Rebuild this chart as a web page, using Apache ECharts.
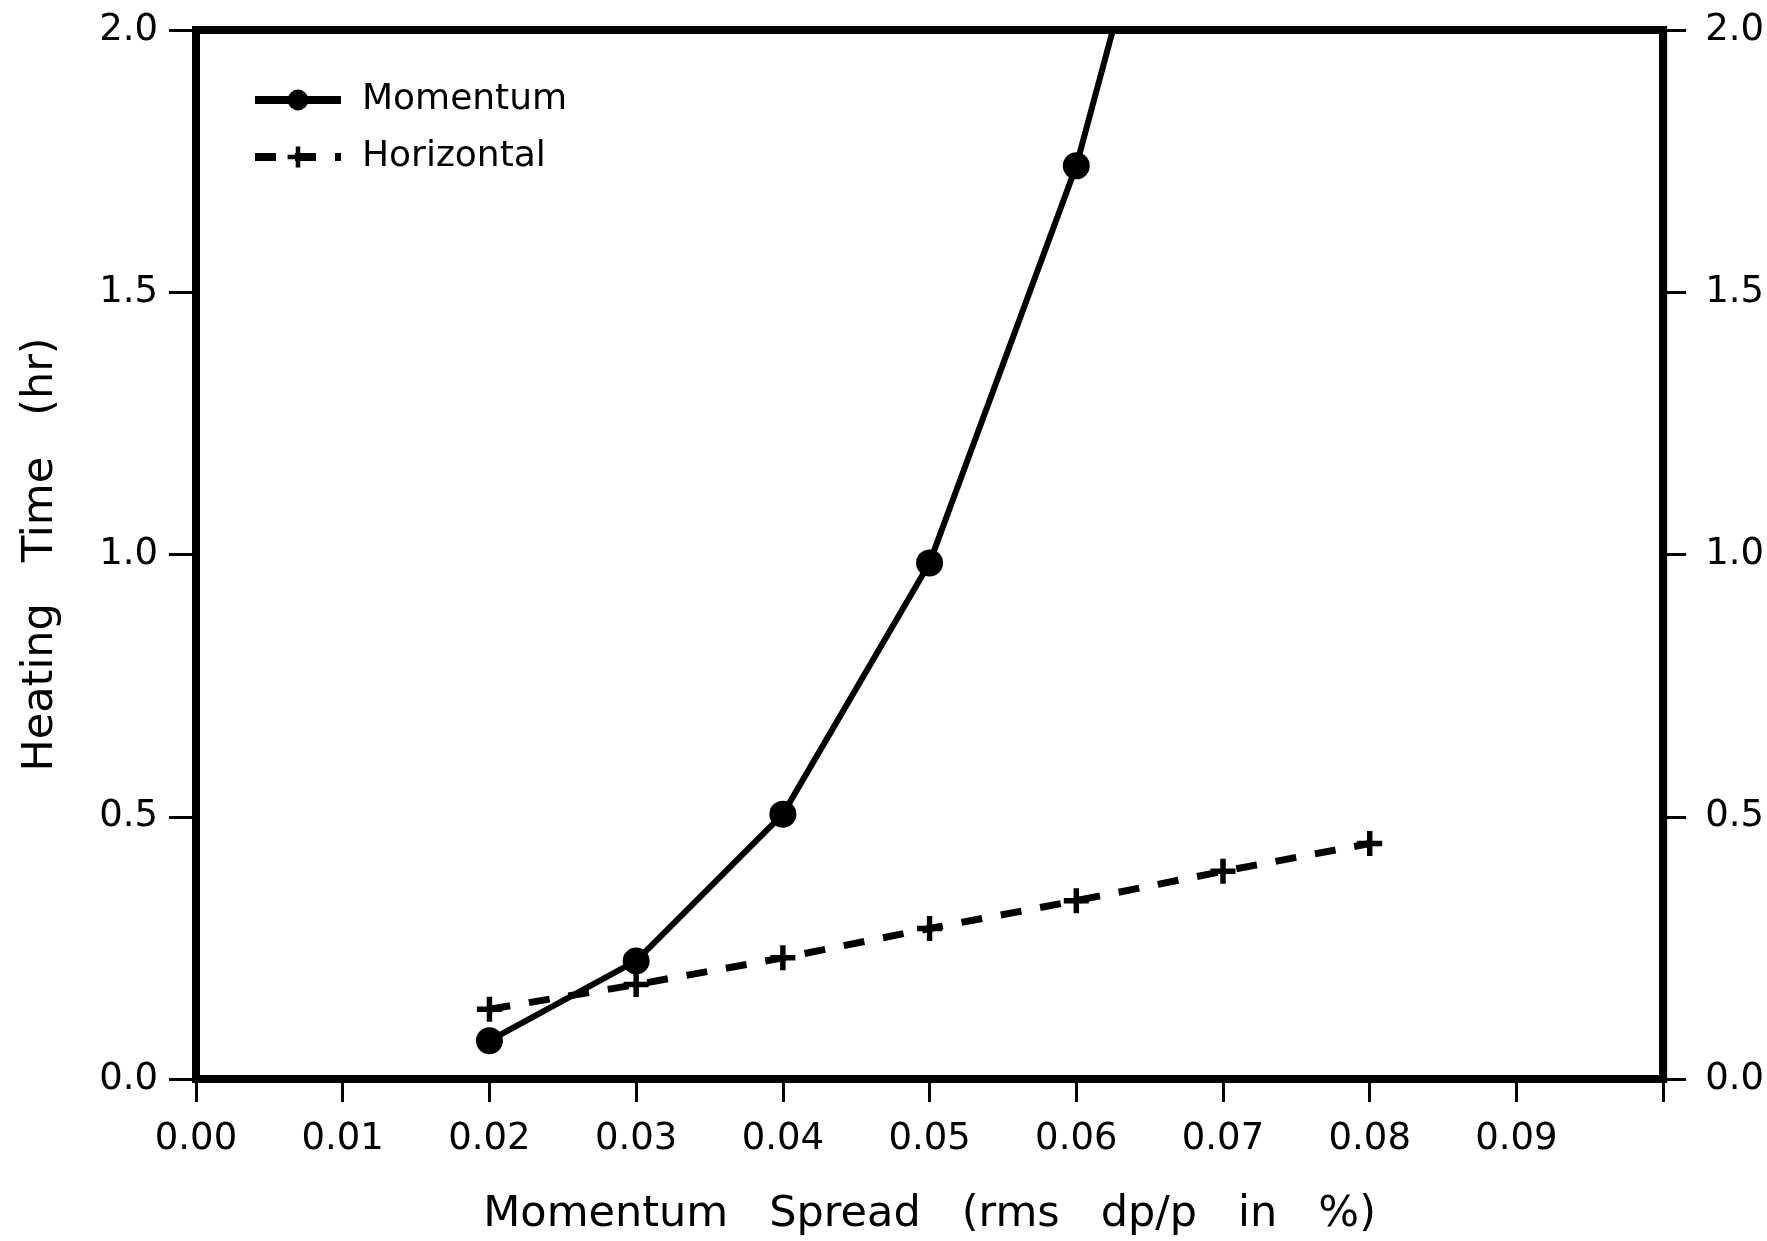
<!DOCTYPE html>
<head>
    <meta charset="utf-8"/>
</head>
<body style="margin:0;background:#fff;">
<div id="main" style="width:1767px;height:1241px;"></div>
<script src="https://cdn.jsdelivr.net/npm/echarts@6/dist/echarts.min.js"></script>
<script type="text/javascript">
// spread values (rms dp/p in %)
var momX = [0.02, 0.03, 0.04, 0.05, 0.06, 0.07];
var momY = [0.073, 0.225, 0.505, 0.984, 1.741, 2.78];
var horX = [0.02, 0.03, 0.04, 0.05, 0.06, 0.07, 0.08];
var horY = [0.133, 0.180, 0.231, 0.287, 0.340, 0.396, 0.449];

function pairs(xs, ys) {
    var out = [];
    for (var i = 0; i < xs.length; i++) out.push([xs[i], ys[i]]);
    return out;
}

var plus = 'path://M9,0 L14,0 L14,9 L23,9 L23,14 L14,14 L14,23 L9,23 L9,14 L0,14 L0,9 L9,9 Z';
var font = 'DejaVu Sans';

var myChart = echarts.init(document.getElementById('main'));
var yAxisBase = {
    type: 'value', min: 0, max: 2, interval: 0.5,
    axisLine: {show: true, lineStyle: {color: '#000', width: 8}},
    axisTick: {show: true, length: 27, lineStyle: {color: '#000', width: 3}},
    splitLine: {show: false},
    axisLabel: {color: '#000', fontSize: 37, fontFamily: font, margin: 38,
        formatter: function (v) { return v.toFixed(1); }}
};
var options = {
    animation: false,
    backgroundColor: '#fff',
    grid: {left: 196, right: 102, top: 30, bottom: 156,
        show: true, borderColor: '#000', borderWidth: 8},
    legend: {
        left: 246, top: 77, orient: 'vertical',
        itemWidth: 86, itemHeight: 26, itemGap: 21,
        lineStyle: {width: 8},
        textStyle: {color: '#000', fontSize: 36, fontFamily: font, padding: [0, 0, 0, 16]},
        data: ['Momentum', 'Horizontal']
    },
    xAxis: {
        type: 'value', min: 0, max: 0.1, interval: 0.01,
        axisLine: {show: true, onZero: false, lineStyle: {color: '#000', width: 8}},
        axisTick: {show: true, length: 23, lineStyle: {color: '#000', width: 3}},
        splitLine: {show: false},
        axisLabel: {color: '#000', fontSize: 37, fontFamily: font, margin: 42,
            formatter: function (v) { return v > 0.095 ? '' : v.toFixed(2); }},
        name: 'Momentum   Spread   (rms   dp/p   in   %)',
        nameLocation: 'middle', nameGap: 114,
        nameTextStyle: {color: '#000', fontSize: 43, fontFamily: font}
    },
    yAxis: [
        Object.assign({}, yAxisBase, {
            position: 'left',
            name: 'Heating   Time   (hr)',
            nameLocation: 'middle', nameGap: 134,
            nameTextStyle: {color: '#000', fontSize: 43, fontFamily: font}
        }),
        Object.assign({}, yAxisBase, {
            position: 'right',
            axisTick: {show: true, length: 23, lineStyle: {color: '#000', width: 3}},
            axisLabel: Object.assign({}, yAxisBase.axisLabel, {margin: 42})
        })
    ],
    series: [{
        name: 'Momentum', type: 'line',
        data: pairs(momX, momY),
        symbol: 'circle', symbolSize: 27,
        itemStyle: {color: '#000'},
        lineStyle: {color: '#000', width: 6},
        clip: true
    }, {
        name: 'Horizontal', type: 'line',
        data: pairs(horX, horY),
        symbol: plus, symbolSize: 25,
        itemStyle: {color: '#000'},
        lineStyle: {color: '#000', width: 7, type: [21, 19]},
        clip: true
    }]
};
myChart.setOption(options);
</script>
</body>
